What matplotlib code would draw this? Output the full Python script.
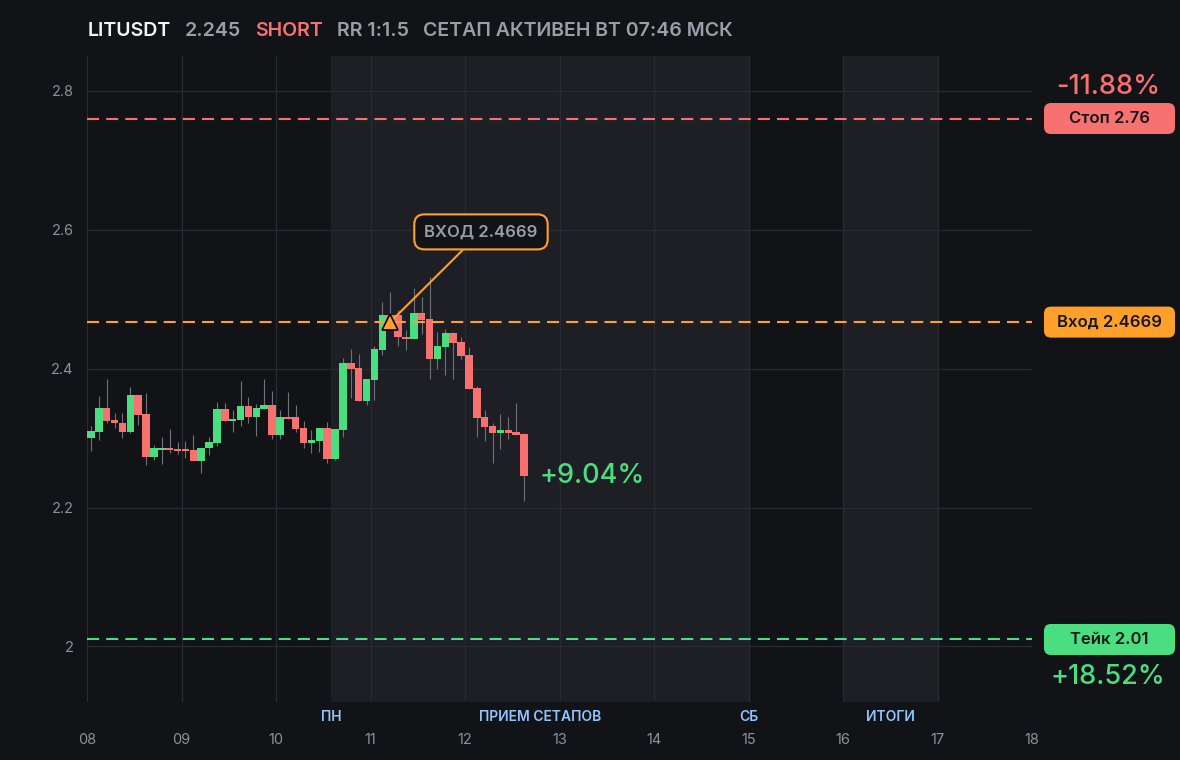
import matplotlib
matplotlib.use('Agg')
import matplotlib.pyplot as plt
import matplotlib.transforms as mtransforms
from matplotlib.patches import FancyBboxPatch

plt.rcParams['font.family'] = ['Inter', 'DejaVu Sans']

# header
symbol = 'LITUSDT'
last_price = '2.245'
side = 'SHORT'
rr_text = 'RR 1:1.5'
status_text = 'СЕТАП АКТИВЕН ВТ 07:46 МСК'

# 2h candles starting on day 08 00:00
first_day = 8.0
candle_hours = 2

opens = [2.300, 2.309, 2.343, 2.326, 2.321, 2.309, 2.362, 2.334, 2.272, 2.283,
         2.285, 2.284, 2.284, 2.283, 2.267, 2.285, 2.293, 2.342, 2.325, 2.326,
         2.346, 2.331, 2.342, 2.347, 2.305, 2.330, 2.330, 2.314, 2.293, 2.296,
         2.314, 2.270, 2.312, 2.408, 2.401, 2.353, 2.384, 2.427, 2.477, 2.477,
         2.446, 2.442, 2.480, 2.471, 2.414, 2.431, 2.451, 2.438, 2.420, 2.372,
         2.330, 2.317, 2.307, 2.312, 2.309, 2.306]
highs = [2.317, 2.360, 2.385, 2.336, 2.336, 2.373, 2.362, 2.365, 2.290, 2.301,
         2.313, 2.294, 2.296, 2.304, 2.285, 2.301, 2.352, 2.350, 2.340, 2.382,
         2.359, 2.349, 2.385, 2.368, 2.340, 2.366, 2.347, 2.324, 2.311, 2.314,
         2.323, 2.313, 2.415, 2.428, 2.421, 2.385, 2.433, 2.496, 2.510, 2.484,
         2.456, 2.516, 2.503, 2.532, 2.453, 2.457, 2.453, 2.446, 2.431, 2.375,
         2.340, 2.322, 2.335, 2.330, 2.350, 2.307]
lows = [2.282, 2.297, 2.321, 2.315, 2.300, 2.307, 2.319, 2.261, 2.269, 2.263,
        2.279, 2.277, 2.271, 2.267, 2.250, 2.276, 2.288, 2.325, 2.308, 2.318,
        2.322, 2.303, 2.342, 2.299, 2.299, 2.327, 2.309, 2.286, 2.279, 2.280,
        2.264, 2.269, 2.302, 2.358, 2.353, 2.348, 2.355, 2.420, 2.463, 2.432,
        2.427, 2.442, 2.450, 2.385, 2.399, 2.391, 2.385, 2.414, 2.371, 2.302,
        2.296, 2.264, 2.284, 2.299, 2.304, 2.209]
closes = [2.310, 2.343, 2.325, 2.321, 2.309, 2.362, 2.333, 2.272, 2.285, 2.285,
          2.283, 2.281, 2.281, 2.267, 2.285, 2.294, 2.342, 2.325, 2.327, 2.346,
          2.331, 2.343, 2.347, 2.305, 2.330, 2.327, 2.313, 2.293, 2.297, 2.314,
          2.270, 2.313, 2.408, 2.399, 2.353, 2.385, 2.428, 2.477, 2.470, 2.445,
          2.442, 2.480, 2.470, 2.414, 2.433, 2.451, 2.437, 2.418, 2.371, 2.329,
          2.316, 2.307, 2.312, 2.307, 2.304, 2.245]

entry_price = 2.4669
stop_price = 2.76
take_price = 2.01
entry_candle = 38
current_move = '+9.04%'
stop_move = '-11.88%'
take_move = '+18.52%'

day_ticks = list(range(8, 19))
day_labels = ['%02d' % d for d in day_ticks]
price_ticks = [2.0, 2.2, 2.4, 2.6, 2.8]
price_labels = ['2', '2.2', '2.4', '2.6', '2.8']

# session bands (days)
week_band = (10.583, 15.0)
result_band = (16.0, 17.0)
band_names = ['ПН', 'ПРИЕМ СЕТАПОВ', 'СБ', 'ИТОГИ']

# colours
BG = '#121317'
BAND = '#1e1f24'
GRID = '#2a2b30'
GREEN = '#4ade80'
RED = '#f87171'
ORANGE = '#ffa02b'
GRAY = '#9a9ea8'
TICK = '#8d919a'
BLUE = '#93c5fd'

W, H = 1180, 760
fig = plt.figure(figsize=(W / 100, H / 100), dpi=100, facecolor=BG)
ax = fig.add_axes([87 / W, 58 / H, 945 / W, 646 / H])
ax.set_facecolor(BG)
ax.set_xlim(8, 18)
ax.set_ylim(1.92, 2.85)
for s in ax.spines.values():
    s.set_visible(False)

ax.axvspan(*week_band, color=BAND, zorder=0, lw=0)
ax.axvspan(*result_band, color=BAND, zorder=0, lw=0)
ax.set_axisbelow(True)
ax.grid(True, color=GRID, lw=0.9, zorder=0.5)

ax.set_xticks(day_ticks)
ax.set_xticklabels(day_labels)
ax.set_yticks(price_ticks)
ax.set_yticklabels(price_labels)
ax.tick_params(axis='x', length=0, pad=22, labelsize=10.5, labelcolor=TICK)
ax.tick_params(axis='y', length=0, pad=9.5, labelsize=10.5, labelcolor=TICK)

# candles
step = candle_hours / 24
xs = [first_day + (i + 0.5) * step for i in range(len(opens))]
cols = [GREEN if c >= o else RED for o, c in zip(opens, closes)]
ax.vlines(xs, lows, highs, color='#6e7178', lw=0.8, zorder=2)
ax.bar(xs, [max(abs(c - o), 0.0015) for o, c in zip(opens, closes)],
       bottom=[min(o, c) for o, c in zip(opens, closes)],
       width=step * 0.94, color=cols, lw=0, zorder=3)

# levels
for price, col in [(stop_price, RED), (entry_price, ORANGE), (take_price, GREEN)]:
    ax.axhline(price, color=col, lw=1.5, dashes=(5.8, 3.4), zorder=4)

# entry marker + callout
ex = xs[entry_candle]
ax.annotate('ВХОД %s' % entry_price, xy=(ex, entry_price), xytext=(12.169, 2.5968),
            ha='center', va='center', fontsize=12, fontweight='semibold', color=GRAY,
            bbox=dict(boxstyle='round,pad=0.6,rounding_size=0.6', fc=BG, ec=ORANGE, lw=1.5),
            arrowprops=dict(arrowstyle='-', color=ORANGE, lw=1.5, shrinkA=0, shrinkB=0),
            zorder=6)
ax.plot([ex], [entry_price], marker='^', ms=11.5, color=ORANGE, mec='#000000', mew=1.2,
        zorder=7, ls='none')

ax.text(xs[-1] + step / 2 + 0.125, closes[-1], current_move, ha='left', va='center',
        fontsize=19.5, fontweight='medium', color=GREEN, zorder=6)

# band captions under the axis
trans = mtransforms.blended_transform_factory(ax.transData, ax.transAxes)
cap_x = [week_band[0], sum(week_band) / 2, week_band[1], sum(result_band) / 2]
for xpos, name in zip(cap_x, band_names):
    ax.text(xpos, -15 / 646, name, transform=trans, ha='center', va='center',
            fontsize=10, fontweight='semibold', color=BLUE)

# right-hand price tags
side_ax = fig.add_axes([1032 / W, 58 / H, 148 / W, 646 / H])
side_ax.set_xlim(1032, 1180)
side_ax.set_ylim(ax.get_ylim())
side_ax.axis('off')
py = (2.85 - 1.92) / 646
tags = [(stop_price, 'Стоп %s' % stop_price, RED),
        (entry_price, 'Вход %s' % entry_price, ORANGE),
        (take_price, 'Тейк %s' % take_price, GREEN)]
for price, label, col in tags:
    side_ax.add_patch(FancyBboxPatch((1044, price - 15.5 * py), 131, 31 * py,
                                     boxstyle='round,pad=0,rounding_size=7',
                                     mutation_aspect=py, fc=col, ec='none'))
    side_ax.text(1109.5, price, label, ha='center', va='center', fontsize=12,
                 fontweight='semibold', color='#15161a')
side_ax.text(1108, stop_price + 31.5 * py, stop_move, ha='center', va='center',
             fontsize=19.5, fontweight='medium', color=RED)
side_ax.text(1108, take_price - 38 * py, take_move, ha='center', va='center',
             fontsize=19.5, fontweight='medium', color=GREEN)

# header line
renderer = fig.canvas.get_renderer()
x = 88
for txt, col in [(symbol, '#f3f4f6'), (last_price, GRAY), (side, RED),
                 (rr_text, GRAY), (status_text, GRAY)]:
    t = fig.text(x / W, (H - 35.5) / H, txt, ha='left', va='baseline', fontsize=14.1,
                 fontweight='semibold', color=col)
    bb = t.get_window_extent(renderer)
    x = bb.x1 + 14

fig.savefig('out.png', dpi=100, facecolor=BG)
